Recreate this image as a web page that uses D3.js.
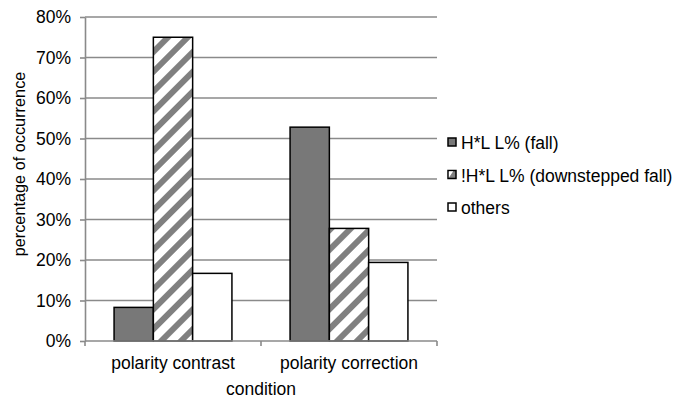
<!DOCTYPE html>
<html>
<head>
<meta charset="utf-8">
<script src="https://cdn.jsdelivr.net/npm/d3@7"></script>
<style>
  html, body { margin: 0; padding: 0; background: #fff; }
  svg { display: block; font-family: "Liberation Sans", Arial, sans-serif; }
</style>
</head>
<body>
<svg id="chart" width="676" height="398"></svg>
<script>
// Intonation contours by condition (proportion of occurrences)
const categories = ["polarity contrast", "polarity correction"];
const seriesNames = ["H*L L% (fall)", "!H*L L% (downstepped fall)", "others"];
const fallValues = [0.083, 0.528];
const downsteppedValues = [0.75, 0.278];
const othersValues = [0.167, 0.194];
const yTicks = [0, 0.1, 0.2, 0.3, 0.4, 0.5, 0.6, 0.7, 0.8];

const series = [fallValues, downsteppedValues, othersValues];

const svg = d3.select("#chart");
const margin = { left: 85, right: 239, top: 17, bottom: 57 };
const W = 676, H = 398;
const plotW = W - margin.left - margin.right;
const plotH = H - margin.top - margin.bottom;
const FS = 17.5;

// Stripe pattern for the downstepped fall series
const defs = svg.append("defs");
const pat = defs.append("pattern")
  .attr("id", "stripes")
  .attr("patternUnits", "userSpaceOnUse")
  .attr("width", 14).attr("height", 14)
  .attr("patternTransform", "rotate(45)");
pat.append("rect").attr("width", 14).attr("height", 14).attr("fill", "#fff");
pat.append("rect").attr("width", 6).attr("height", 14).attr("fill", "#808080");

const fills = ["#787878", "url(#stripes)", "#ffffff"];

const g = svg.append("g").attr("transform", `translate(${margin.left},${margin.top})`);

const x0 = d3.scaleBand().domain(categories).range([0, plotW]).paddingInner(0).paddingOuter(0);
const x1 = d3.scaleBand().domain(d3.range(series.length))
  .range([0, x0.bandwidth()]).paddingOuter(0.74).paddingInner(0);
const y = d3.scaleLinear().domain([0, 0.8]).range([plotH, 0]);

// Horizontal gridlines
g.append("g")
  .selectAll("line")
  .data(yTicks.filter(t => t > 0))
  .join("line")
  .attr("x1", 0).attr("x2", plotW)
  .attr("y1", d => y(d)).attr("y2", d => y(d))
  .attr("stroke", "#8a8a8a").attr("stroke-width", 1.6);

// Bars
categories.forEach((cat, ci) => {
  g.append("g")
    .attr("transform", `translate(${x0(cat)},0)`)
    .selectAll("rect")
    .data(series.map((s, si) => ({ si, v: s[ci] })))
    .join("rect")
    .attr("x", d => x1(d.si))
    .attr("y", d => y(d.v))
    .attr("width", x1.bandwidth())
    .attr("height", d => plotH - y(d.v))
    .attr("fill", d => fills[d.si])
    .attr("stroke", "#000").attr("stroke-width", 1.5);
});

// Y axis
const yAxis = g.append("g")
  .call(d3.axisLeft(y).tickValues(yTicks).tickFormat(d3.format(".0%")).tickSize(5).tickSizeOuter(0));
yAxis.select(".domain").attr("stroke", "#8a8a8a").attr("stroke-width", 1.6);
yAxis.selectAll(".tick line").attr("stroke", "#8a8a8a").attr("stroke-width", 1.6);
yAxis.selectAll(".tick text").attr("font-size", FS).attr("fill", "#000").attr("x", -14)
  .attr("font-family", "Liberation Sans, Arial, sans-serif");

// X axis with boundary ticks between categories
const xAxisG = g.append("g").attr("transform", `translate(0,${plotH})`);
xAxisG.append("line").attr("x1", 0).attr("x2", plotW).attr("y1", 0).attr("y2", 0)
  .attr("stroke", "#8a8a8a").attr("stroke-width", 1.6);
const boundaries = [0, ...categories.map(c => x0(c) + x0.bandwidth())];
xAxisG.selectAll("line.bt").data(boundaries).join("line").attr("class", "bt")
  .attr("x1", d => d).attr("x2", d => d).attr("y1", 0).attr("y2", 5)
  .attr("stroke", "#8a8a8a").attr("stroke-width", 1.6);
xAxisG.selectAll("text").data(categories).join("text")
  .attr("x", d => x0(d) + x0.bandwidth() / 2)
  .attr("y", 28)
  .attr("text-anchor", "middle")
  .attr("font-size", FS)
  .text(d => d);

// Axis titles
svg.append("text")
  .attr("x", margin.left + plotW / 2)
  .attr("y", 395)
  .attr("text-anchor", "middle")
  .attr("font-size", FS)
  .text("condition");
svg.append("text")
  .attr("transform", "translate(25,164) rotate(-90)")
  .attr("text-anchor", "middle")
  .attr("font-size", 16.3)
  .text("percentage of occurrence");

// Legend
const legend = svg.append("g").attr("transform", "translate(448,143)");
const items = legend.selectAll("g").data(seriesNames).join("g")
  .attr("transform", (d, i) => `translate(0,${i * 32.5})`);
items.append("rect")
  .attr("x", 0).attr("y", -5).attr("width", 8).attr("height", 8)
  .attr("fill", (d, i) => i === 1 ? "#808080" : fills[i])
  .attr("stroke", "#000").attr("stroke-width", 1.5);
items.filter((d, i) => i === 1).append("path")
  .attr("d", "M0.8,2.2 L5.2,-4.2 L0.8,-4.2 Z")
  .attr("fill", "#fff");
items.append("text")
  .attr("x", 13).attr("y", 6)
  .attr("font-size", FS)
  .text(d => d);
</script>
</body>
</html>
